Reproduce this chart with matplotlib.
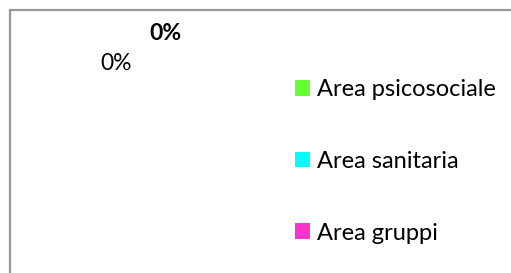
import matplotlib.pyplot as plt
from matplotlib.patches import Patch, Rectangle

categories = ["Area psicosociale", "Area sanitaria", "Area gruppi"]
values = [0, 0, 0]
colors = ["#66ff33", "#00ffff", "#ff33cc"]

plt.rcParams['font.family'] = ['Lato', 'DejaVu Sans']

fig = plt.figure(figsize=(5.11, 2.73), dpi=100)
W, H = 511, 273

# chart area border (runs off the right and bottom edges)
fig.patches.append(Rectangle((10 / W, -0.1), 1.2, 1 - 10 / H + 0.1,
                             transform=fig.transFigure, fill=False,
                             edgecolor="#999999", linewidth=1.6))

# empty pie: every slice is 0, so only the labels remain
total = sum(values)
pcts = [v / total if total else 0 for v in values]
fig.text(165 / W, 1 - 33 / H, f"{pcts[0]:.0%}", ha="center", va="center",
         fontsize=16.5, fontweight="bold")
fig.text(116 / W, 1 - 63 / H, f"{pcts[1]:.0%}", ha="center", va="center",
         fontsize=16.5)

handles = [Patch(facecolor=c, edgecolor="none") for c in colors]
fig.legend(handles, categories, loc="upper left",
           bbox_to_anchor=(295 / W, 1 - 79 / H), frameon=False,
           fontsize=17, handlelength=0.64, handleheight=0.64,
           handletextpad=0.3, labelspacing=2.15, borderpad=0,
           borderaxespad=0)

fig.savefig("out.png", dpi=100)
